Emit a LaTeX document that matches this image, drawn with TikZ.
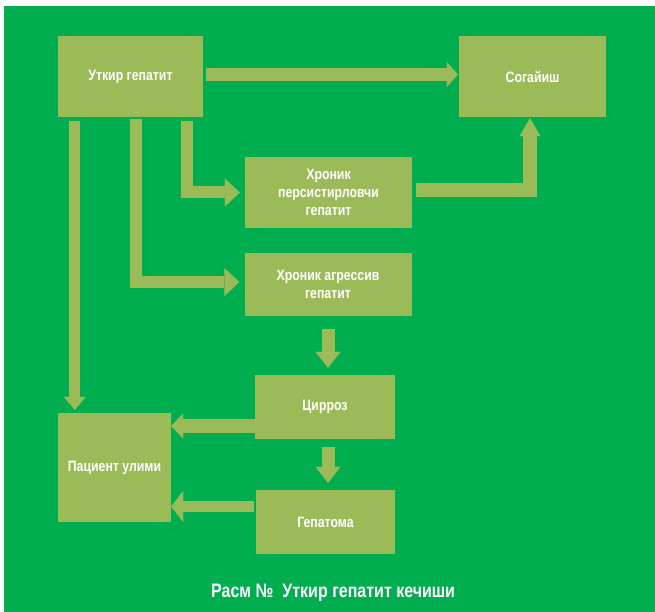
\documentclass[tikz,border=0pt]{standalone}
\usepackage{fontspec}
\setmainfont{Liberation Sans}
\newfontfamily\narrowfont[FakeStretch=0.82]{Liberation Sans}
\usetikzlibrary{arrows.meta}

\definecolor{bggreen}{RGB}{0,173,79}
\definecolor{boxgreen}{RGB}{155,187,89}

\tikzset{
  blockbox/.style={fill=boxgreen, draw=none, text=white, align=center,
    inner sep=0pt, font=\narrowfont\bfseries\fontsize{15}{18}\selectfont},
  flow/.style n args={3}{draw=boxgreen, line width=#1, line join=miter,
    line cap=butt, -{Triangle[width=#2, length=#3, line width=0.01pt]}},
}

\begin{document}
\begin{tikzpicture}[x=1pt, y=-1pt]
  % page and green panel
  \fill[white] (0,0) rectangle (655,612);
  \fill[bggreen] (4,6) rectangle (655,612);
  \useasboundingbox (0,0) rectangle (655,612);

  % boxes
  \node[blockbox, minimum width=145pt, minimum height=81pt] (ut)  at (130.5,76.5) {Уткир гепатит};
  \node[blockbox, minimum width=147pt, minimum height=81pt] (sog) at (532.5,76.5) {Согайиш};
  \node[blockbox, minimum width=167pt, minimum height=71pt] (hp)  at (328.5,192.5) {Хроник\\персистирловчи\\гепатит};
  \node[blockbox, minimum width=167pt, minimum height=63pt] (ha)  at (328,284.5) {Хроник агрессив\\гепатит};
  \node[blockbox, minimum width=113pt, minimum height=109pt] (pu) at (114.5,467.5) {Пациент улими};
  \node[blockbox, minimum width=140pt, minimum height=64pt] (cir) at (325,407) {Цирроз};
  \node[blockbox, minimum width=139pt, minimum height=64pt] (gep) at (325.5,522) {Гепатома};

  % connectors
  \draw[flow={13pt}{25pt}{11pt}] ([xshift=3pt,yshift=2pt]ut.east) -- ([xshift=-1pt,yshift=2pt]sog.west);
  \draw[flow={11pt}{22pt}{13pt}] ([xshift=17pt,yshift=-4pt]ut.south west) -- ([xshift=17pt,yshift=3pt]pu.north west);
  \draw[flow={12pt}{28pt}{15pt}] ([xshift=78pt,yshift=-2pt]ut.south west) |- ([xshift=-5pt,yshift=2.5pt]ha.west);
  \draw[flow={12pt}{28pt}{15pt}] ([xshift=129.5pt,yshift=-4pt]ut.south west) |- ([xshift=-5pt]hp.west);
  \draw[flow={14pt}{21pt}{18pt}] ([xshift=4pt,yshift=2.5pt]hp.east) -| ([xshift=-2.5pt,yshift=-1pt]sog.south);
  \draw[flow={13pt}{25pt}{16pt}] ([yshift=-13pt]ha.south) -- ([xshift=3pt,yshift=7pt]cir.north);
  \draw[flow={14pt}{25pt}{12pt}] ([yshift=-19pt]cir.west) -- ([yshift=41.5pt]pu.east);
  \draw[flow={13pt}{25pt}{16pt}] ([xshift=3pt,yshift=-8pt]cir.south) -- ([xshift=2.5pt,yshift=7pt]gep.north);
  \draw[flow={11pt}{31pt}{12pt}] ([xshift=-2pt,yshift=15.5pt]gep.west) -- ([yshift=-39pt]pu.east);

  % caption
  \node[anchor=base west, inner sep=0pt, text=white,
        font=\narrowfont\bfseries\fontsize{19.5}{22}\selectfont] (cap) at (211,597)
        {Расм №\ \ Уткир гепатит кечиши};
\end{tikzpicture}
\end{document}
